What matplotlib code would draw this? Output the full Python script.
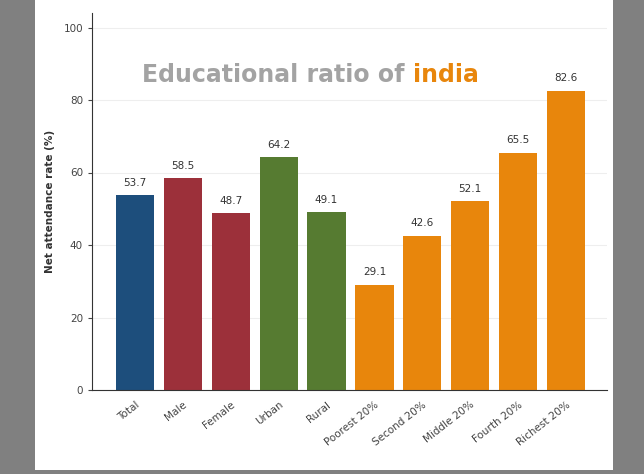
import matplotlib.pyplot as plt
from matplotlib.patches import Rectangle

categories = ['Total', 'Male', 'Female', 'Urban', 'Rural', 'Poorest 20%',
              'Second 20%', 'Middle 20%', 'Fourth 20%', 'Richest 20%']
values = [53.7, 58.5, 48.7, 64.2, 49.1, 29.1, 42.6, 52.1, 65.5, 82.6]
groups = ['total', 'sex', 'sex', 'area', 'area', 'wealth', 'wealth', 'wealth', 'wealth', 'wealth']

group_colors = {'total': '#1d4e7c', 'sex': '#9c303a', 'area': '#567b31', 'wealth': '#e8860c'}

fig = plt.figure(figsize=(6.44, 4.74), dpi=100, facecolor='#808080')
# white card behind the chart
fig.patches.append(Rectangle((35 / 644, 4 / 474), (613 - 35) / 644, 1, transform=fig.transFigure,
                             facecolor='white', edgecolor='none', zorder=-10))

ax = fig.add_axes([92 / 644, 1 - 390 / 474, (607 - 92) / 644, (390 - 13) / 474])
ax.set_facecolor('none')

x = list(range(len(categories)))
cols = [group_colors[g] for g in groups]
bars = ax.bar(x, values, width=0.8, color=cols, zorder=2)

for xi, v in zip(x, values):
    ax.text(xi, v + 2, f'{v:.1f}', ha='center', va='bottom', fontsize=7.5, color='#333333')

ax.set_xlim(-0.9, 9.86)
ax.set_ylim(0, 104)
ax.set_yticks([0, 20, 40, 60, 80, 100])
ax.yaxis.grid(True, color='#eeeeee', linewidth=0.8, zorder=0)
ax.set_axisbelow(True)

ax.set_xticks(x)
ax.set_xticklabels(categories, rotation=38, ha='right', rotation_mode='anchor', fontsize=7.5, color='#444444')
ax.tick_params(axis='y', labelsize=7.5, labelcolor='#444444', length=3, color='#444444')
ax.tick_params(axis='x', length=0, pad=7)

for s in ['top', 'right']:
    ax.spines[s].set_visible(False)
ax.spines['left'].set_color('#333333')
ax.spines['bottom'].set_color('#333333')

ax.set_ylabel('Net attendance rate (%)', fontsize=7.5, fontweight='bold', color='#333333', labelpad=6)

# two-colour title inside the plot
t1 = ax.text(0.098, 0.835, 'Educational ratio of ', transform=ax.transAxes, fontsize=17,
             fontweight='bold', color='#a3a3a3', ha='left', va='center')
fig.canvas.draw()
bb = t1.get_window_extent()
x_end = ax.transAxes.inverted().transform((bb.x1, bb.y0))[0]
ax.text(x_end, 0.835, 'india', transform=ax.transAxes, fontsize=17,
        fontweight='bold', color='#e8860c', ha='left', va='center')

fig.savefig('out.png', dpi=100, facecolor=fig.get_facecolor())
